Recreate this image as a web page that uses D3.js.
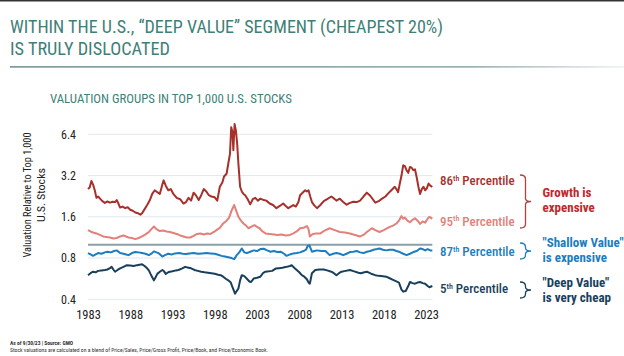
<!DOCTYPE html>
<html><head><meta charset="utf-8">
<script src="https://cdn.jsdelivr.net/npm/d3@7"></script>
<style>
html,body{margin:0;padding:0;background:#fff;}
svg{display:block;font-family:"Roboto Condensed","Roboto",sans-serif;}
</style></head>
<body>
<svg id="c" width="624" height="356"></svg>
<script>
const yTicks = [0.4, 0.8, 1.6, 3.2, 6.4];
const xTicks = [1983, 1988, 1993, 1998, 2003, 2008, 2013, 2018, 2023];

const years86 = [1983.0,1983.2,1983.4,1983.6,1983.8,1984.0,1984.2,1984.4,1984.7,1985.0,1985.3,1985.6,1985.9,1986.2,1986.4,1986.6,1986.8,1987.1,1987.4,1987.7,1988.0,1988.3,1988.6,1988.9,1989.2,1989.4,1989.7,1990.0,1990.3,1990.6,1990.9,1991.2,1991.5,1991.8,1991.95,1992.2,1992.5,1992.8,1993.1,1993.5,1993.9,1994.3,1994.6,1994.9,1995.2,1995.5,1995.8,1996.1,1996.4,1996.7,1997.0,1997.3,1997.6,1998.0,1998.3,1998.6,1998.9,1999.1,1999.4,1999.6,1999.8,1999.95,2000.1,2000.2,2000.35,2000.5,2000.65,2000.8,2001.0,2001.2,2001.4,2001.6,2001.9,2002.2,2002.5,2002.8,2003.1,2003.4,2003.8,2004.1,2004.5,2004.9,2005.3,2005.7,2006.1,2006.4,2006.7,2007.0,2007.3,2007.6,2007.9,2008.1,2008.4,2008.7,2008.9,2009.1,2009.3,2009.5,2009.8,2010.1,2010.5,2010.9,2011.3,2011.8,2012.1,2012.4,2012.8,2013.2,2013.6,2014.0,2014.4,2014.8,2015.2,2015.6,2016.0,2016.4,2016.7,2017.0,2017.4,2017.8,2018.2,2018.5,2018.9,2019.3,2019.5,2019.7,2019.9,2020.1,2020.3,2020.5,2020.7,2020.9,2021.1,2021.3,2021.5,2021.7,2021.9,2022.1,2022.3,2022.5,2022.7,2022.9,2023.1,2023.3,2023.5,2023.75];
const p86 = [2.55,2.62,2.92,2.75,2.5,2.2,2.25,2.18,2.08,2.02,2.07,2.03,2.06,2.05,2.12,2.0,1.87,1.9,1.85,1.88,1.8,1.77,1.72,1.7,1.66,1.7,1.82,1.95,2.1,2.35,2.5,2.42,2.35,2.75,2.95,2.7,2.5,2.55,2.35,2.2,2.15,2.0,2.05,2.2,2.1,2.4,2.28,2.12,2.3,2.55,2.45,2.3,2.25,2.22,2.1,2.65,2.85,3.15,3.3,3.9,4.6,7.2,6.6,4.9,7.6,6.8,5.5,3.9,2.65,2.45,2.35,2.3,2.15,1.97,2.15,2.2,2.1,2.17,2.12,2.1,2.0,1.95,1.85,1.92,2.0,1.92,1.85,1.9,1.95,1.9,2.05,2.3,2.4,2.5,2.45,2.5,2.25,2.05,1.93,1.85,1.95,2.08,2.15,2.25,2.18,2.1,2.17,2.05,1.96,2.02,2.06,2.05,2.1,2.25,2.4,2.28,2.15,2.03,2.08,2.17,2.25,2.36,2.5,2.65,2.55,2.42,2.8,3.2,3.8,3.75,3.5,3.35,3.7,3.65,3.5,3.55,3.1,2.65,2.35,2.55,2.65,2.5,2.58,2.8,2.7,2.65];

const years95 = [1983.0,1983.3,1983.6,1984.0,1984.4,1984.8,1985.2,1985.6,1986.0,1986.4,1986.8,1987.2,1987.5,1987.8,1988.2,1988.6,1989.0,1989.4,1989.8,1990.2,1990.5,1990.8,1991.1,1991.5,1991.9,1992.3,1992.7,1993.1,1993.5,1993.9,1994.3,1994.7,1995.1,1995.5,1995.9,1996.3,1996.7,1997.1,1997.5,1997.9,1998.2,1998.6,1999.0,1999.4,1999.7,2000.0,2000.3,2000.5,2000.8,2001.1,2001.4,2001.7,2002.0,2002.4,2002.7,2003.0,2003.3,2003.6,2004.0,2004.5,2005.0,2005.4,2005.9,2006.4,2006.9,2007.3,2007.7,2008.1,2008.5,2008.9,2009.1,2009.25,2009.6,2010.0,2010.5,2011.0,2011.6,2012.2,2012.8,2013.4,2014.0,2014.6,2015.2,2015.6,2016.0,2016.6,2017.0,2017.5,2018.0,2018.7,2019.1,2019.5,2019.8,2020.1,2020.3,2020.5,2020.8,2021.1,2021.4,2021.7,2022.0,2022.3,2022.6,2022.9,2023.2,2023.4,2023.75];
const p95 = [1.28,1.25,1.23,1.21,1.18,1.15,1.14,1.13,1.11,1.12,1.15,1.17,1.15,1.13,1.12,1.1,1.12,1.15,1.19,1.24,1.3,1.36,1.3,1.26,1.27,1.25,1.24,1.22,1.2,1.17,1.15,1.13,1.13,1.16,1.2,1.21,1.19,1.21,1.2,1.24,1.28,1.33,1.43,1.5,1.58,1.78,1.95,1.8,1.6,1.5,1.43,1.38,1.32,1.36,1.39,1.35,1.32,1.26,1.21,1.2,1.19,1.18,1.19,1.17,1.18,1.21,1.25,1.32,1.33,1.37,1.3,1.15,1.2,1.21,1.21,1.27,1.32,1.28,1.24,1.23,1.21,1.18,1.15,1.18,1.24,1.32,1.28,1.24,1.28,1.35,1.38,1.43,1.5,1.62,1.55,1.58,1.5,1.46,1.52,1.56,1.5,1.42,1.48,1.45,1.55,1.6,1.55];

const years87 = [1983.0,1983.3,1983.6,1983.9,1984.2,1984.6,1985.0,1985.3,1985.7,1986.1,1986.4,1986.8,1987.2,1987.5,1987.8,1988.2,1988.6,1989.0,1989.4,1989.8,1990.2,1990.5,1990.8,1991.1,1991.4,1991.8,1992.1,1992.5,1992.9,1993.3,1993.8,1994.2,1994.6,1995.0,1995.5,1996.0,1996.5,1997.0,1997.5,1998.0,1998.4,1998.8,1999.2,1999.6,2000.0,2000.3,2000.6,2000.9,2001.2,2001.5,2001.8,2002.2,2002.6,2003.0,2003.4,2003.8,2004.2,2004.6,2005.0,2005.4,2005.8,2006.2,2006.5,2006.9,2007.3,2007.7,2008.1,2008.5,2008.8,2009.0,2009.2,2009.5,2009.8,2010.1,2010.6,2011.1,2011.6,2012.0,2012.4,2012.8,2013.2,2013.6,2014.0,2014.4,2014.8,2015.2,2015.6,2016.0,2016.4,2016.8,2017.2,2017.5,2017.9,2018.3,2018.7,2019.1,2019.5,2019.9,2020.3,2020.7,2021.1,2021.5,2021.9,2022.3,2022.6,2022.9,2023.2,2023.5,2023.75];
const p87 = [0.87,0.85,0.83,0.85,0.87,0.86,0.88,0.89,0.88,0.9,0.91,0.87,0.86,0.85,0.84,0.87,0.885,0.88,0.87,0.86,0.84,0.86,0.895,0.88,0.865,0.82,0.84,0.86,0.85,0.865,0.87,0.86,0.855,0.865,0.87,0.86,0.865,0.87,0.865,0.86,0.845,0.83,0.82,0.81,0.8,0.785,0.84,0.88,0.94,0.88,0.87,0.89,0.91,0.9,0.93,0.935,0.91,0.89,0.9,0.885,0.89,0.86,0.83,0.85,0.865,0.87,0.88,0.9,0.92,0.98,0.99,0.89,0.9,0.91,0.9,0.9,0.84,0.86,0.87,0.86,0.84,0.86,0.885,0.89,0.9,0.88,0.87,0.89,0.9,0.92,0.93,0.94,0.92,0.91,0.92,0.92,0.9,0.885,0.86,0.84,0.86,0.885,0.9,0.94,0.93,0.91,0.93,0.91,0.91];

const years5 = [1983.0,1983.3,1983.6,1983.9,1984.2,1984.6,1985.0,1985.3,1985.6,1985.8,1986.0,1986.2,1986.5,1986.8,1987.2,1987.6,1988.0,1988.4,1988.8,1989.1,1989.4,1989.7,1990.0,1990.2,1990.4,1990.6,1990.8,1991.0,1991.2,1991.5,1991.8,1992.0,1992.2,1992.5,1992.7,1993.0,1993.4,1993.7,1994.1,1994.5,1994.9,1995.2,1995.6,1996.0,1996.4,1996.8,1997.2,1997.6,1998.0,1998.4,1998.7,1999.0,1999.3,1999.6,1999.9,2000.1,2000.4,2000.6,2000.8,2001.0,2001.2,2001.5,2001.8,2002.1,2002.3,2002.6,2003.0,2003.4,2003.7,2004.0,2004.4,2004.8,2005.2,2005.6,2006.0,2006.5,2006.9,2007.1,2007.4,2007.7,2008.0,2008.3,2008.6,2008.9,2009.1,2009.25,2009.5,2009.9,2010.4,2010.9,2011.3,2011.8,2012.1,2012.4,2012.7,2013.0,2013.5,2014.0,2014.5,2015.0,2015.3,2015.7,2016.0,2016.5,2017.0,2017.4,2017.9,2018.3,2018.7,2019.1,2019.5,2019.8,2020.1,2020.3,2020.6,2020.9,2021.1,2021.4,2021.7,2022.0,2022.3,2022.6,2022.9,2023.2,2023.4,2023.75];
const p5 = [0.6,0.62,0.636,0.63,0.645,0.65,0.655,0.66,0.675,0.69,0.66,0.636,0.655,0.673,0.69,0.71,0.705,0.7,0.71,0.715,0.72,0.7,0.673,0.65,0.613,0.58,0.55,0.58,0.613,0.635,0.655,0.64,0.613,0.63,0.636,0.64,0.65,0.655,0.67,0.69,0.68,0.673,0.655,0.645,0.636,0.63,0.625,0.62,0.615,0.605,0.6,0.585,0.565,0.55,0.53,0.49,0.44,0.46,0.48,0.55,0.6,0.59,0.565,0.54,0.535,0.567,0.575,0.585,0.62,0.636,0.64,0.645,0.67,0.675,0.68,0.69,0.7,0.71,0.68,0.655,0.63,0.6,0.585,0.56,0.53,0.52,0.62,0.655,0.66,0.66,0.65,0.636,0.62,0.6,0.62,0.636,0.645,0.655,0.64,0.625,0.62,0.63,0.636,0.615,0.6,0.593,0.59,0.585,0.57,0.555,0.54,0.53,0.47,0.455,0.46,0.5,0.535,0.525,0.52,0.53,0.535,0.525,0.52,0.5,0.49,0.5];

const seriesNames = ["86th", "95th", "87th", "5th"];
const seriesColors = ["#a8302b", "#e2807a", "#1b7dc0", "#183f5c"];

const svg = d3.select("#c");
const x = d3.scaleLinear().domain([1983, 2023]).range([88, 426]);
const y = d3.scaleLog().domain([0.4, 6.4]).range([299.3, 134.3]);
const xEnd = x(2023.75);

// top border
svg.append("rect").attr("x",0).attr("y",0).attr("width",624).attr("height",1.5).attr("fill","#333");

// title
const teal = "#3f7f78";
const t = svg.append("g").attr("fill", teal).style("font-size","18.5px");
t.append("text").attr("x",10).attr("y",33).attr("textLength",433).attr("lengthAdjust","spacingAndGlyphs")
 .text("WITHIN THE U.S., “DEEP VALUE” SEGMENT (CHEAPEST 20%)");
t.append("text").attr("x",10).attr("y",55).attr("textLength",160).attr("lengthAdjust","spacingAndGlyphs")
 .text("IS TRULY DISLOCATED");

const grad = svg.append("defs").append("linearGradient").attr("id","rule").attr("x1","0").attr("x2","1");
grad.append("stop").attr("offset","0").attr("stop-color","#4a7077");
grad.append("stop").attr("offset","0.75").attr("stop-color","#6f8f95");
grad.append("stop").attr("offset","1").attr("stop-color","#e6eef0");
svg.append("rect").attr("x",10).attr("y",66.3).attr("width",614).attr("height",1.2).attr("fill","url(#rule)");

svg.append("text").attr("x",50).attr("y",103).attr("fill",teal).style("font-size","13.5px")
 .attr("textLength",242).attr("lengthAdjust","spacingAndGlyphs")
 .text("VALUATION GROUPS IN TOP 1,000 U.S. STOCKS");

// gridlines
svg.append("g").selectAll("line").data(yTicks).join("line")
 .attr("x1", 88).attr("x2", xEnd).attr("y1", d=>y(d)).attr("y2", d=>y(d))
 .attr("stroke", "#dfe9ef").attr("stroke-width", 1);

// reference line at 1.0
svg.append("line").attr("x1",88).attr("x2",xEnd).attr("y1",y(1)).attr("y2",y(1))
 .attr("stroke","#8c9ea9").attr("stroke-width",2);

// y axis
const ya = svg.append("g").attr("transform","translate(88,0)")
 .call(d3.axisLeft(y).tickValues(yTicks).tickFormat(d3.format(".1f")).tickSize(0).tickPadding(12));
ya.select(".domain").remove();
ya.selectAll("text").attr("fill","#222").style("font-size","12px").style("font-family","'Roboto Condensed',Roboto,sans-serif");

// x axis
const xa = svg.append("g").attr("transform","translate(0,306)")
 .call(d3.axisBottom(x).tickValues(xTicks).tickFormat(d3.format("d")).tickSize(0).tickPadding(4));
xa.select(".domain").remove();
xa.selectAll("text").attr("fill","#222").style("font-size","12.5px").style("font-family","'Roboto Condensed',Roboto,sans-serif");

// y title
const yt = svg.append("g").attr("fill","#222").style("font-size","11px");
yt.append("text").attr("transform","translate(31,195) rotate(-90)").attr("text-anchor","middle")
 .attr("textLength",125).attr("lengthAdjust","spacingAndGlyphs").text("Valuation Relative to Top 1,000");
yt.append("text").attr("transform","translate(45,195) rotate(-90)").attr("text-anchor","middle")
 .attr("textLength",54).attr("lengthAdjust","spacingAndGlyphs").text("U.S. Stocks");

// lines
const line = d3.line().x(d=>x(d[0])).y(d=>y(d[1]));
const allSeries = [[years86,p86],[years95,p95],[years87,p87],[years5,p5]];
allSeries.forEach((s,i)=>{
  const pts = s[0].map((yr,j)=>[yr, s[1][j]]);
  svg.append("path").datum(pts).attr("d", line).attr("fill","none")
    .attr("stroke", seriesColors[i]).attr("stroke-width", 2).attr("stroke-linejoin","round");
});

// labels
const labelNums = ["86", "95", "87", "5"];
const labelY = [185, 225.5, 256, 293];
labelNums.forEach((n,i)=>{
  const tx = svg.append("text").attr("x",440).attr("y",labelY[i]).attr("fill",seriesColors[i])
    .style("font-size","13px").style("font-weight","500");
  tx.append("tspan").text(n);
  tx.append("tspan").attr("dy",-4.5).style("font-size","8px").text("th");
  tx.append("tspan").attr("dy",4.5).text(" Percentile");
});

// braces
function brace(x0, y0, y1, w) {
  const m = (y0+y1)/2, xm = x0 + w*0.5, xt = x0 + w;
  return `M${x0},${y0} Q${xm},${y0} ${xm},${y0+4} L${xm},${m-3} Q${xm},${m} ${xt},${m} Q${xm},${m} ${xm},${m+3} L${xm},${y1-4} Q${xm},${y1} ${x0},${y1}`;
}
const braces = [[175,228,"#b4423c"],[243,259,"#1b7dc0"],[282,298,"#183f5c"]];
braces.forEach(b=>{
  svg.append("path").attr("d", brace(520,b[0],b[1],11)).attr("fill","none").attr("stroke",b[2]).attr("stroke-width",1.3);
});

// side notes
const notes = [
  [["Growth is","expensive"],[197,212],"#c0272d"],
  [["\"Shallow Value\"","is expensive"],[247,262],"#1b7dc0"],
  [["\"Deep Value\"","is very cheap"],[287,302],"#183f5c"]
];
notes.forEach(nt=>{
  nt[0].forEach((s,k)=>{
    svg.append("text").attr("x",542.5).attr("y",nt[1][k]).attr("fill",nt[2])
      .style("font-size","13px").style("font-weight","bold").text(s);
  });
});

// footer
svg.append("text").attr("x",10).attr("y",345).attr("fill","#333").style("font-size","5.5px").style("font-weight","bold")
 .text("As of 9/30/23 | Source: GMO");
svg.append("text").attr("x",10).attr("y",352).attr("fill","#333").style("font-size","5.5px")
 .attr("textLength",258).attr("lengthAdjust","spacingAndGlyphs")
 .text("Stock valuations are calculated on a blend of Price/Sales, Price/Gross Profit, Price/Book, and Price/Economic Book.");
</script>
</body></html>
